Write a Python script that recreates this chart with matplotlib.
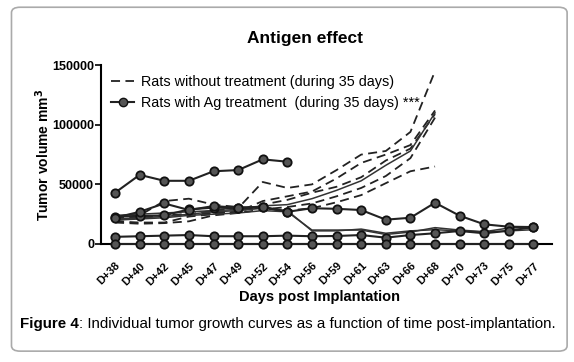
import matplotlib
matplotlib.use("Agg", force=True)
import matplotlib.pyplot as plt
from matplotlib.patches import FancyBboxPatch
import numpy as np

plt.rcParams["font.family"] = ["Liberation Sans", "DejaVu Sans"]

DAYS = ["D+38", "D+40", "D+42", "D+45", "D+47", "D+49", "D+52", "D+54", "D+56",
        "D+59", "D+61", "D+63", "D+66", "D+68", "D+70", "D+73", "D+75", "D+77"]

# untreated rats (dashed, values in mm3), measured up to D+68
UNTREATED = [
    [20000, 22000, 24000, 25000, 28000, 30000, 52000, 47000, 50000, 62000, 75000, 78000, 94000, 145000],
    [19000, 18000, 18000, 23000, 25000, 27000, 36000, 40000, 44000, 55000, 68000, 75000, 83000, 112000],
    [21000, 23000, 24000, 25000, 26000, 27000, 33000, 37000, 43000, 48000, 56000, 70000, 80000, 109000],
    [22000, 24000, 36000, 38000, 33000, 31000, 30000, 28000, 30000, 35000, 41000, 51000, 61000, 65000],
    [18000, 17000, 17500, 19000, 24000, 26000, 29000, 31000, 34000, 40000, 47000, 57000, 72000, 106000],
]

# treated rats without visible markers (thin solid)
PLAIN = [
    [24000, 25000, 26000, 27000, 28000, 29000, 32000, 33000, 38000, 45000, 53000, 66000, 78000, 110000],
    [20000, 21000, 22000, 24000, 25000, 26000, 28000, 27000, 11700, 11700, 11700, 8000, 10000, 13700, 11700, 10300, 13400, 14200],
    [21000, 22000, 23000, 25000, 27000, 28000, 30000, 28000, 11000, 11000, 12500, 9000, 11000, 12000, 11000, 10000, 11000, 12000],
]

# Ag treated rats (solid with markers)
TREATED = [
    [43000, 58000, 53000, 53000, 61000, 62000, 71000, 69000],
    [23000, 23500, 24000, 29000, 30500, 30000, 30700, 27000, 30000, 29500, 28500, 20400, 22000, 34600, 23700, 16500, 14500, 14200],
    [22000, 27000, 34000, 28500, 31800, 30400, 31300, 27000],
    [6000, 6500, 7000, 7500, 6500, 6500, 6500, 7000, 6500, 6700, 7500, 5300, 7500, 9000, 10900, 9000, 11100, 14200],
    [0] * 18,
]

fig = plt.figure(figsize=(5.74, 3.62), dpi=100)
fig.patches.append(FancyBboxPatch((0.02, 0.03), 0.968, 0.95, boxstyle="round,pad=0,rounding_size=0.015",
                                  transform=fig.transFigure, facecolor="none", edgecolor="#aaaaaa",
                                  linewidth=1.2, zorder=-1))
ax = fig.add_axes([0.176, 0.326, 0.786, 0.494])
ax.set_facecolor("none")

x = np.arange(len(DAYS))
for vals in UNTREATED:
    ax.plot(x[:len(vals)], vals, color="#222222", ls=(0, (5, 3)), lw=1.3, clip_on=False)
for vals in PLAIN:
    ax.plot(x[:len(vals)], vals, color="#333333", ls="-", lw=1.1, clip_on=False)
for vals in TREATED:
    ax.plot(x[:len(vals)], vals, color="#222222", ls="-", lw=1.5, marker="o", ms=6,
            mfc="#555555", mec="#111111", mew=1.3, clip_on=False, zorder=3)

h1, = ax.plot([], [], color="#222222", ls=(0, (5, 3)), lw=1.3)
h2, = ax.plot([], [], color="#222222", ls="-", lw=1.5, marker="o", ms=6, mfc="#555555", mec="#111111")
ax.legend([h1, h2], ["Rats without treatment (during 35 days)", "Rats with Ag treatment  (during 35 days) ***"],
          loc="upper left", bbox_to_anchor=(0.0, 1.0), frameon=False, fontsize=10.4, handlelength=1.6,
          handletextpad=0.5, borderaxespad=0.3, labelspacing=0.45)

ax.set_xlim(-0.57, 17.76)
ax.set_ylim(0, 150000)
ax.set_yticks([0, 50000, 100000, 150000])
ax.set_yticklabels(["0", "50000", "100000", "150000"], fontweight="bold", fontsize=9)
ax.set_xticks(x)
ax.set_xticklabels(DAYS, rotation=45, ha="right", va="top", rotation_mode="anchor",
                   fontweight="bold", fontsize=8)
ax.tick_params(axis="y", length=4, width=1.2, pad=1)
ax.tick_params(axis="x", length=3, width=1.2, pad=9)
for s in ("top", "right"):
    ax.spines[s].set_visible(False)
for s in ("left", "bottom"):
    ax.spines[s].set_linewidth(1.5)

ax.set_ylabel("Tumor volume mm$^\\mathbf{3}$", fontweight="bold", fontsize=10)
ax.yaxis.set_label_coords(-0.108, 0.5)
ax.set_xlabel("Days post Implantation", fontweight="bold", fontsize=10.5)
ax.xaxis.set_label_coords(0.485, -0.255)
fig.text(0.532, 0.893, "Antigen effect", ha="center", va="center", fontweight="bold", fontsize=12.5)

cap1 = fig.text(0.035, 0.105, "Figure 4", ha="left", va="center", fontweight="bold", fontsize=10.9)
fig.canvas.draw()
bb = cap1.get_window_extent()
fig.text(bb.x1 / fig.bbox.width, 0.105, ": Individual tumor growth curves as a function of time post-implantation.",
         ha="left", va="center", fontsize=10.9)

fig.savefig("out.png", dpi=100)
